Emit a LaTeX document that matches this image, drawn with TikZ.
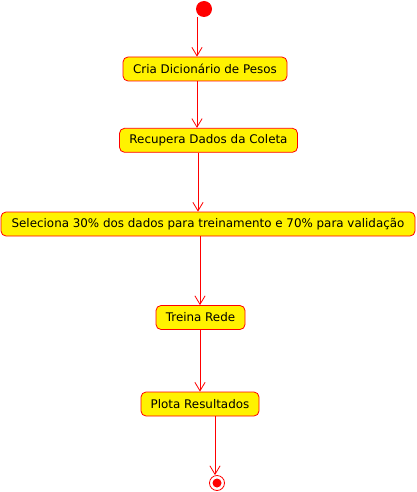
\documentclass[tikz,border=0pt]{standalone}
\usepackage{fontspec}
\setmainfont{DejaVu Sans}
\usetikzlibrary{arrows.meta}

\begin{document}
\begin{tikzpicture}[x=1pt,y=1pt,yscale=-1,xscale=1,
  acao/.style={draw=red,fill=yellow,rounded corners=5pt,line width=0.8pt,
    minimum height=24pt,inner sep=0pt,font=\fontsize{11.9}{13}\selectfont},
  fluxo/.style={draw=red,line width=0.8pt,-{Straight Barb[angle=62:10pt]}}]
\useasboundingbox (0,0) rectangle (416,492);

%Start
\node [circle,fill=red,inner sep=0pt,minimum size=16pt] (inicio) at (204,9) {};
%Actions
\node [acao,minimum width=164pt] (cria) at (205,69) {Cria Dicionário de Pesos};
\node [acao,minimum width=178pt] (recupera) at (208.5,140.3) {Recupera Dados da Coleta};
\node [acao,minimum width=414pt] (seleciona) at (208,224) {Seleciona 30\% dos dados para treinamento e 70\% para validação};
\node [acao,minimum width=89pt] (treina) at (200.5,317.5) {Treina Rede};
\node [acao,minimum width=118pt] (plota) at (200,404) {Plota Resultados};
%End
\node [circle,draw=red,fill=white,line width=0.8pt,inner sep=0pt,minimum size=15pt] (fim) at (217,483) {};
\fill [red] (fim.center) circle (4.5);

%Flows
\draw [fluxo] (inicio.south -| 197,0) -- (cria.north -| 197,0);
\draw [fluxo] (cria.south -| 197,0) -- (recupera.north -| 197,0);
\draw [fluxo] (recupera.south -| 198,0) -- (seleciona.north -| 198,0);
\draw [fluxo] (seleciona.south -| 200,0) -- (treina.north -| 200,0);
\draw [fluxo] (treina.south -| 200,0) -- (plota.north -| 200,0);
\draw [fluxo] (plota.south -| 215,0) -- (fim.north -| 215,0);

\end{tikzpicture}
\end{document}
